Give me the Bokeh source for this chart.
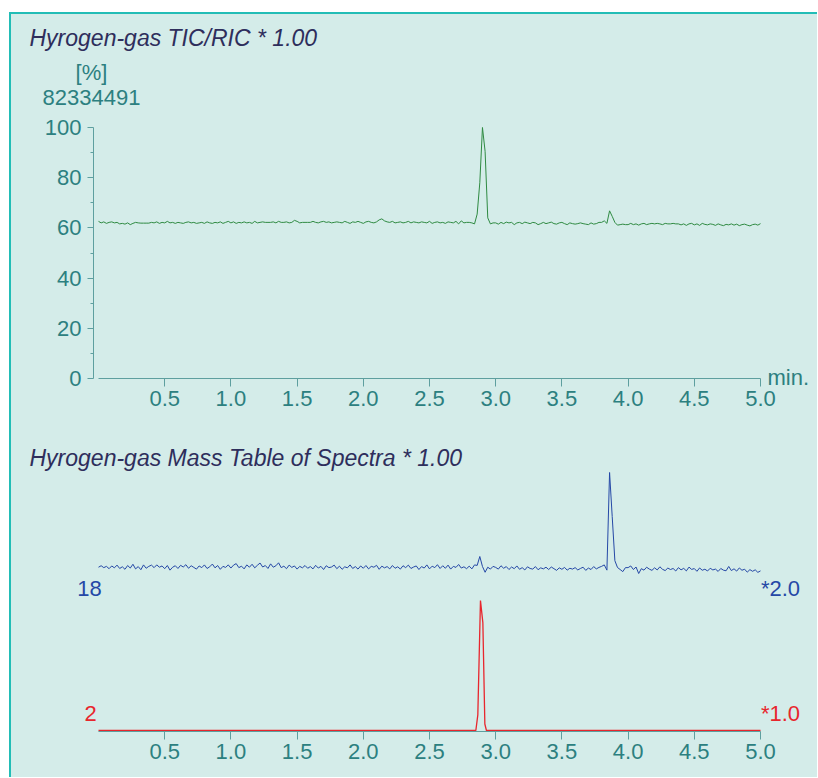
from bokeh.plotting import figure
from bokeh.models import Range1d, FixedTicker, PrintfTickFormatter, Label, LinearAxis
from bokeh.layouts import column
from bokeh.embed import file_html
from bokeh.resources import INLINE

# ---------------- data ----------------
t_step = 0.02  # sampling interval of the traces (min)

tic_green = [
    62.6, 62.0, 62.4, 61.8, 62.2, 62.4, 62.0, 62.2, 61.6, 61.8,
    61.5, 62.0, 61.3, 61.8, 62.2, 62.0, 61.9, 61.9, 61.9, 61.9,
    62.2, 62.0, 62.4, 61.8, 62.2, 62.0, 62.6, 62.0, 62.2, 61.8,
    62.2, 62.0, 61.8, 62.2, 62.4, 62.0, 62.2, 61.8, 62.0, 62.2,
    61.8, 62.4, 62.0, 61.8, 62.2, 62.0, 62.4, 61.8, 62.2, 62.6,
    62.0, 62.4, 61.8, 62.2, 62.0, 62.4, 62.0, 62.2, 61.8, 62.6,
    62.0, 62.2, 62.4, 62.2, 62.2, 62.2, 62.4, 62.0, 62.6, 62.2,
    62.2, 62.4, 62.0, 62.2, 63.0, 62.6, 62.0, 62.2, 62.2, 62.2,
    62.2, 62.6, 62.2, 62.0, 62.4, 62.6, 62.2, 62.4, 62.0, 62.2,
    62.4, 62.2, 62.0, 62.6, 62.2, 61.8, 62.4, 62.2, 62.6, 62.2,
    61.8, 62.4, 62.6, 62.2, 62.0, 62.4, 63.2, 63.6, 62.8, 62.4,
    62.2, 62.6, 62.0, 62.2, 62.4, 62.0, 62.2, 62.6, 62.0, 62.4,
    62.2, 62.0, 62.4, 62.2, 62.0, 62.6, 61.8, 62.2, 62.4, 62.0,
    62.2, 61.8, 62.4, 62.2, 62.0, 62.6, 61.6, 62.8, 62.0, 62.2,
    62.2, 62.0, 61.6, 65.5, 78.0, 100.0, 90.5, 64.0, 61.6, 62.0,
    62.0, 61.5, 62.2, 61.7, 62.3, 62.0, 62.2, 61.3, 62.0, 62.2,
    61.7, 62.3, 62.0, 61.7, 62.2, 62.0, 61.3, 61.7, 62.2, 61.7,
    62.0, 62.3, 61.7, 61.5, 62.0, 62.2, 61.7, 61.3, 62.0, 61.7,
    61.5, 61.7, 62.0, 61.7, 61.5, 61.3, 62.0, 61.5, 61.7, 62.2,
    62.2, 62.8, 61.8, 66.8, 64.6, 62.2, 61.1, 61.3, 61.5, 61.3,
    61.3, 61.8, 61.3, 61.6, 61.1, 61.6, 61.8, 61.3, 61.6, 61.8,
    61.6, 61.8, 61.6, 61.3, 61.8, 61.6, 61.6, 61.8, 61.6, 61.6,
    61.2, 61.6, 61.0, 61.6, 61.8, 61.2, 61.6, 61.0, 61.8, 61.4,
    61.2, 61.6, 61.4, 61.0, 61.6, 61.2, 60.9, 61.4, 61.2, 61.6,
    61.1, 61.5, 60.9, 61.3, 61.5, 61.1, 60.8, 61.3, 61.5, 61.1, 61.7,
]

mass18_blue = [
    9.8, 11.2, 9.4, 10.6, 8.4, 11.0, 9.2, 11.8, 8.6, 10.2,
    7.8, 11.4, 9.0, 12.6, 8.2, 10.4, 7.4, 12.0, 8.8, 10.6,
    11.8, 9.4, 12.0, 9.8, 11.0, 8.4, 11.4, 7.0, 9.8, 11.2,
    8.6, 11.6, 10.0, 12.2, 8.8, 11.2, 9.6, 8.0, 11.0, 9.4,
    12.0, 8.6, 10.2, 12.8, 9.2, 11.4, 7.8, 10.6, 9.6, 12.0,
    9.0, 11.8, 13.2, 9.4, 10.8, 8.2, 12.0, 9.8, 12.6, 9.2,
    11.6, 13.8, 10.0, 11.4, 8.6, 13.0, 9.8, 11.2, 14.0, 9.4,
    10.8, 8.4, 11.8, 9.6, 11.0, 8.0, 10.6, 9.2, 11.4, 8.8,
    10.4, 8.2, 11.6, 9.0, 10.6, 7.6, 11.2, 9.4, 10.0, 11.8,
    8.4, 10.8, 7.8, 10.2, 9.2, 12.0, 8.6, 10.4, 8.0, 11.0,
    8.8, 11.4, 8.2, 10.6, 9.8, 11.6, 7.8, 10.8, 9.2, 10.4,
    8.2, 11.4, 8.8, 10.2, 8.0, 11.2, 9.4, 11.8, 8.6, 10.0,
    11.0, 7.6, 10.4, 9.0, 12.0, 8.2, 10.8, 9.4, 12.2, 8.6,
    11.2, 8.8, 11.8, 8.0, 10.6, 9.6, 12.4, 9.0, 10.2, 8.4,
    10.8, 8.2, 12.0, 11.5, 20.0, 10.5, 5.0, 9.8, 8.0, 10.6,
    9.6, 8.0, 11.2, 8.8, 10.4, 7.6, 10.0, 8.4, 11.0, 7.8,
    9.4, 7.2, 10.2, 8.6, 8.0, 10.4, 7.4, 9.2, 8.2, 9.8,
    7.6, 10.0, 8.4, 6.8, 9.2, 7.8, 9.6, 7.0, 8.8, 8.0,
    9.4, 7.2, 8.6, 9.8, 6.8, 9.0, 7.6, 10.4, 8.2, 9.6,
    10.6, 12.0, 7.0, 100.0, 58.0, 16.0, 9.5, 7.6, 5.6, 9.4,
    9.4, 11.0, 7.6, 10.0, 3.8, 8.4, 7.0, 9.8, 8.0, 6.8,
    9.2, 7.2, 10.2, 7.8, 6.6, 9.0, 7.6, 8.6, 6.2, 9.4,
    7.3, 8.7, 6.3, 9.9, 7.7, 8.5, 5.9, 9.1, 6.9, 7.9,
    6.2, 8.8, 7.2, 8.0, 5.8, 8.6, 7.0, 6.4, 10.5, 6.6,
    8.3, 6.1, 9.1, 6.9, 7.9, 5.1, 7.5, 5.9, 7.3, 4.9, 6.3,
]

mass2_time = [0.0, 2.85, 2.865, 2.885, 2.903, 2.918, 2.93, 5.0]
mass2_red = [0.0, 0.0, 12.0, 100.0, 83.0, 5.0, 0.0, 0.0]

time = [round(i * t_step, 3) for i in range(len(tic_green))]

x_ticks = [0.5, 1.0, 1.5, 2.0, 2.5, 3.0, 3.5, 4.0, 4.5, 5.0]
y_ticks = [0, 20, 40, 60, 80, 100]
y_minor = [10, 30, 50, 70, 90]

title_top = "Hyrogen-gas  TIC/RIC * 1.00"
title_bottom = "Hyrogen-gas  Mass Table of Spectra * 1.00"
y_unit = "[%]"
y_full_scale = "82334491"
x_unit = "min."
mass_blue_label, blue_factor = "18", "*2.0"
mass_red_label, red_factor = "2", "*1.0"

# ---------------- style ----------------
BG = "#d4ece9"
FRAME = "#22bdb6"
TXT = "#2c8080"
AXIS = "#5e9f9f"
NAVY = "#2e2e5c"
GREEN = "#2f8a42"
BLUE = "#2548a6"
RED = "#e8262d"
FONT = "Liberation Sans"
FS = "22px"
FS_TITLE = "23px"

W = 806            # canvas width of both charts
PX_MIN = 132.4     # pixels per minute
X0 = 87            # canvas x of t = 0
x_range_lo = -X0 / PX_MIN
x_range_hi = (W - X0) / PX_MIN


def make_xaxis(p, y_loc):
    ax = LinearAxis(fixed_location=y_loc, bounds=(time[0], time[-1]))
    ax.ticker = FixedTicker(ticks=x_ticks)
    ax.formatter = PrintfTickFormatter(format="%.1f")
    ax.major_tick_out = 8
    ax.major_tick_in = 0
    ax.minor_tick_out = 0
    ax.minor_tick_in = 0
    ax.major_tick_line_color = AXIS
    ax.axis_line_color = AXIS
    ax.major_label_text_color = TXT
    ax.major_label_text_font = FONT
    ax.major_label_text_font_size = FS
    ax.major_label_standoff = 4
    p.add_layout(ax, "below")


def add_label(p, x, y, text, color, align="left", italic=False, size=FS):
    # canvas units: pixels from the top-left corner of the figure canvas
    p.add_layout(Label(x=x, y=y, x_units="canvas", y_units="canvas",
                       text=text, text_color=color, text_align=align,
                       text_baseline="middle", text_font=FONT,
                       text_font_size=size,
                       text_font_style="italic" if italic else "normal"))


def base_figure(height, y_lo, y_hi):
    p = figure(width=W, height=height,
               x_range=Range1d(x_range_lo, x_range_hi), y_range=Range1d(y_lo, y_hi),
               x_axis_location=None, y_axis_location=None,
               output_backend="svg", toolbar_location=None,
               min_border_left=0, min_border_right=0, min_border_top=0, min_border_bottom=0,
               background_fill_color=BG, border_fill_color=BG, outline_line_color=None)
    p.grid.visible = False
    return p


# ---------------- top chart (TIC) ----------------
H1 = 416
Y0_1 = 364          # canvas y of 0 %
PX_PCT = 2.51       # pixels per %
p1 = base_figure(H1, -(H1 - Y0_1) / PX_PCT, Y0_1 / PX_PCT)

ya = LinearAxis(fixed_location=-5 / PX_MIN, bounds=(y_ticks[0], y_ticks[-1]))
ya.ticker = FixedTicker(ticks=y_ticks, minor_ticks=y_minor)
ya.major_tick_out = 6
ya.major_tick_in = 0
ya.minor_tick_out = 3
ya.minor_tick_in = 0
ya.axis_line_color = AXIS
ya.major_tick_line_color = AXIS
ya.minor_tick_line_color = AXIS
ya.major_label_text_color = TXT
ya.major_label_text_font = FONT
ya.major_label_text_font_size = FS
ya.major_label_standoff = 6
p1.add_layout(ya, "left")
make_xaxis(p1, y_ticks[0])

p1.line(time, tic_green, line_color=GREEN, line_width=1)

add_label(p1, 18, 23, title_top, NAVY, italic=True, size=FS_TITLE)
add_label(p1, 80, 58, y_unit, TXT, align="center")
add_label(p1, 80, 83, y_full_scale, TXT, align="center")
add_label(p1, 756, 363, x_unit, TXT)

# ---------------- bottom chart (mass table) ----------------
H2 = 347
Y0_RED = 300        # canvas y of the m/z 2 baseline
PX_RED = 1.3
Y0_BLUE = 147       # canvas y of zero for the m/z 18 trace
PX_BLUE = 1.05
p2 = base_figure(H2, -(H2 - Y0_RED) / PX_RED, Y0_RED / PX_RED)
p2.extra_y_ranges = {"blue": Range1d(-(H2 - Y0_BLUE) / PX_BLUE, Y0_BLUE / PX_BLUE)}
make_xaxis(p2, -1 / PX_RED)

p2.line(time, mass18_blue, y_range_name="blue", line_color=BLUE, line_width=1)
p2.line(mass2_time, mass2_red, line_color=RED, line_width=1.3)

add_label(p2, 18, 27, title_bottom, NAVY, italic=True, size=FS_TITLE)
add_label(p2, 78, 158, mass_blue_label, BLUE, align="center")
add_label(p2, 769, 158, blue_factor, BLUE, align="center")
add_label(p2, 79, 283, mass_red_label, RED, align="center")
add_label(p2, 769, 283, red_factor, RED, align="center")

layout = column(p1, p2, spacing=0,
                styles={"border-left": f"2px solid {FRAME}",
                        "border-top": f"2px solid {FRAME}",
                        "margin-left": "9px", "margin-top": "12px",
                        "background-color": BG})

open("out.html", "w").write(file_html(layout, INLINE))
